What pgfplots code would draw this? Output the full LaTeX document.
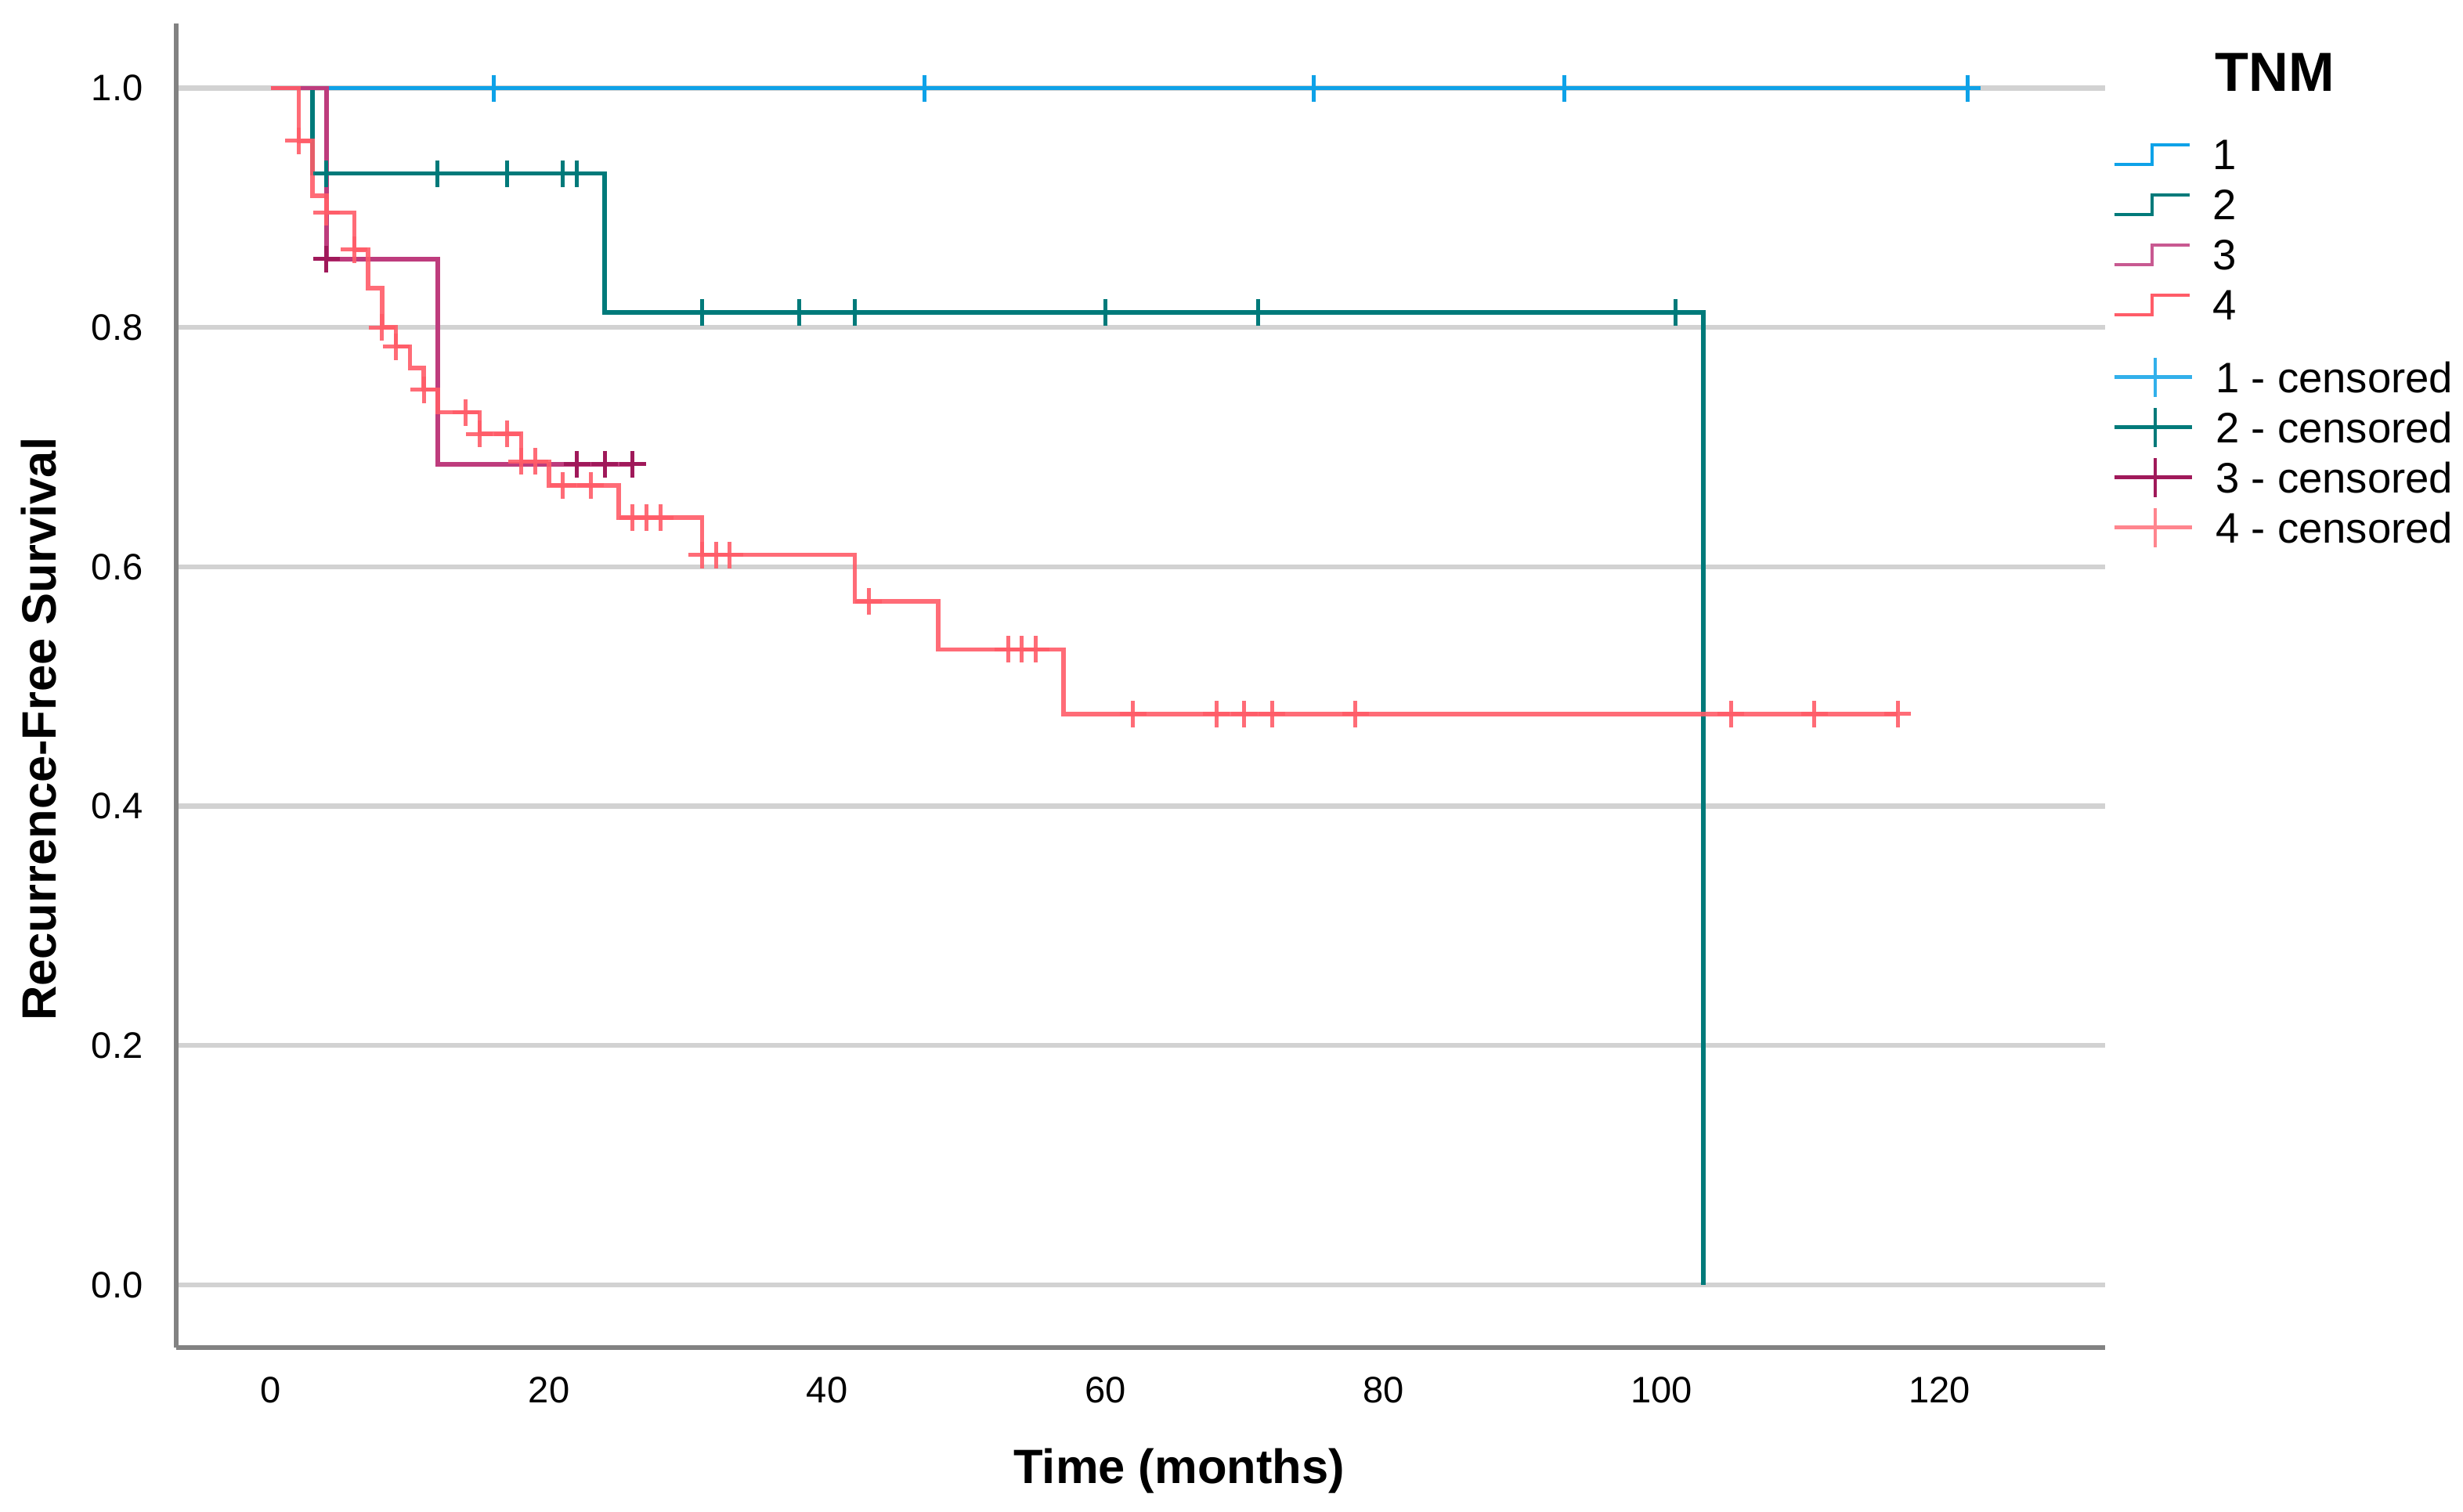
\documentclass[border=0pt]{standalone}
\usepackage{pgfplots}
\pgfplotsset{compat=1.18}
\usepackage{fontspec}
\setmainfont{Liberation Sans}

\definecolor{tnmA}{RGB}{14,162,232}
\definecolor{tnmB}{RGB}{0,122,122}
\definecolor{tnmC}{RGB}{190,60,125}
\definecolor{tnmCdark}{RGB}{160,25,90}
\definecolor{tnmD}{RGB}{255,92,104}
\definecolor{gridgray}{RGB}{210,210,210}
\definecolor{axisgray}{RGB}{130,130,130}

\pgfplotsset{
  stepglyph/.style={legend image code/.code={
    \draw[##1,line width=0.4mm] (0mm,-1.25mm) -- (4.8mm,-1.25mm) -- (4.8mm,1.25mm) -- (9.6mm,1.25mm);}},
  crossglyph/.style={legend image code/.code={
    \draw[##1,line width=0.45mm] (0mm,0mm) -- (9.9mm,0mm) (5.2mm,-2.5mm) -- (5.2mm,2.5mm);}},
  km/.style={const plot, line width=0.55mm, forget plot},
  cens/.style={only marks, mark=+, mark size=1.7mm, mark options={line width=0.5mm}, forget plot},
  kmframe/.style={
    scale only axis, width=246.3mm, height=169.1mm,
    xmin=-6.81, xmax=131.9, ymin=-0.0524, ymax=1.054},
  kmlegend/.style={
    legend style={anchor=north west, draw=none, fill=none,
      inner sep=0pt, row sep=0pt, column sep=2.8mm,
      nodes={inner sep=0pt, text height=5.16mm, text depth=1.24mm},
      font=\fontsize{15.5}{18}\selectfont},
    legend cell align=left},
}

\begin{document}
\begin{tikzpicture}
\useasboundingbox (-22.5mm,-21mm) rectangle (292mm,172.1mm);
\begin{axis}[
  kmframe, kmlegend,
  axis x line*=bottom, axis y line*=left,
  axis line style={axisgray, line width=0.55mm},
  xtick={0,20,40,60,80,100,120},
  ytick={0,0.2,0.4,0.6,0.8,1},
  major tick length=0pt,
  ymajorgrids, grid style={gridgray, line width=0.65mm},
  /pgf/number format/assume math mode=true,
  tick label style={font=\fontsize{13.4}{16}\selectfont},
  y tick label style={/pgf/number format/fixed, /pgf/number format/fixed zerofill, /pgf/number format/precision=1, inner sep=0pt, xshift=-4.2mm},
  x tick label style={inner sep=0pt, yshift=-3.7mm},
  xlabel={Time (months)},
  ylabel={Recurrence-Free Survival},
  xlabel style={font=\bfseries\fontsize{17.5}{21}\selectfont, at={(axis description cs:0.520,-0.093)}, anchor=center},
  ylabel style={font=\bfseries\fontsize{17.5}{21}\selectfont, at={(axis description cs:-0.0711,0.467)}, anchor=center},
  legend style={at={(axis description cs:1.0037,0.9205)}},
]

% TNM 1
\addplot[km, tnmA] coordinates {(0,1) (122,1)};
% TNM 2
\addplot[km, tnmB] coordinates {(0,1) (3,0.9286) (24,0.8125) (103,0)};
% TNM 3
\addplot[km, tnmC] coordinates {(0,1) (4,0.8571) (12,0.6857) (26,0.6857)};
% TNM 4
\addplot[km, tnmD, opacity=0.9] coordinates {
  (0,1) (2,0.956) (3,0.910) (4,0.896) (6,0.865) (7,0.833) (8,0.800) (9,0.784)
  (10,0.766) (11,0.748) (12,0.729) (15,0.711) (18,0.688) (20,0.668) (25,0.641)
  (31,0.610) (42,0.571) (48,0.531) (57,0.477) (117,0.477)};

% censored
\addplot[cens, tnmA] coordinates {(16,1) (47,1) (75,1) (93,1) (122,1)};
\addplot[cens, tnmB] coordinates {(4,0.9286) (12,0.9286) (17,0.9286) (21,0.9286) (22,0.9286)
  (31,0.8125) (38,0.8125) (42,0.8125) (60,0.8125) (71,0.8125) (101,0.8125)};
\addplot[cens, tnmCdark] coordinates {(4,0.8571) (22,0.6857) (24,0.6857) (26,0.6857)};
\addplot[cens, tnmD, opacity=0.9] coordinates {
  (2,0.956) (4,0.896) (6,0.865) (8,0.800) (9,0.784) (11,0.748) (14,0.729)
  (15,0.711) (17,0.711) (18,0.688) (19,0.688) (21,0.668) (23,0.668)
  (26,0.641) (27,0.641) (28,0.641) (31,0.610) (32,0.610) (33,0.610) (43,0.571)
  (53,0.531) (54,0.531) (55,0.531) (62,0.477) (68,0.477) (70,0.477) (72,0.477)
  (78,0.477) (105,0.477) (111,0.477) (117,0.477)};

\addlegendimage{stepglyph, tnmA}
\addlegendentry{1}
\addlegendimage{stepglyph, tnmB}
\addlegendentry{2}
\addlegendimage{stepglyph, tnmC!85!white}
\addlegendentry{3}
\addlegendimage{stepglyph, tnmD}
\addlegendentry{4}
\end{axis}

% second legend: censored marks, and the legend title
\begin{axis}[
  kmframe, kmlegend, hide axis, clip=false,
  legend style={at={(axis description cs:1.0037,0.7522)}},
]
\addlegendimage{crossglyph, tnmA!85!white}
\addlegendentry{1 - censored}
\addlegendimage{crossglyph, tnmB}
\addlegendentry{2 - censored}
\addlegendimage{crossglyph, tnmCdark}
\addlegendentry{3 - censored}
\addlegendimage{crossglyph, tnmD!75!white}
\addlegendentry{4 - censored}
\node[anchor=west, inner sep=0pt, font=\bfseries\fontsize{20}{24}\selectfont]
  at (axis description cs:1.0568,0.9633) {TNM};
\end{axis}
\end{tikzpicture}
\end{document}
